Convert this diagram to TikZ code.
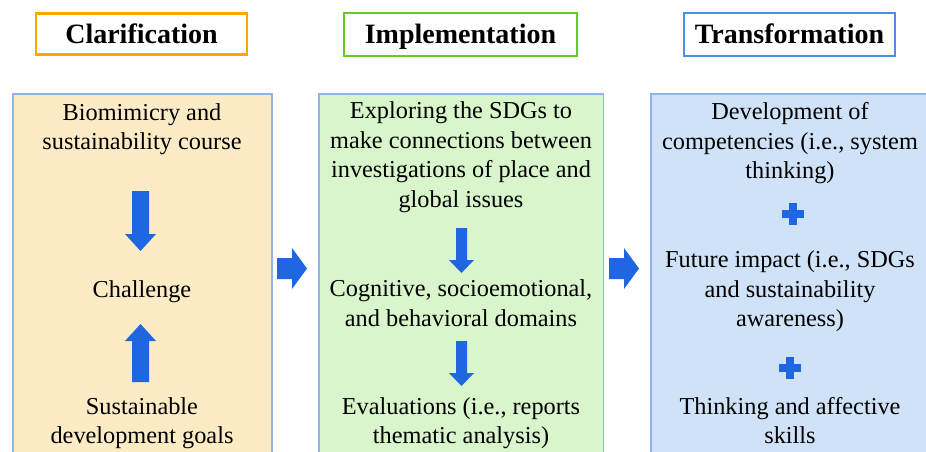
\documentclass[tikz,border=0pt]{standalone}
\usepackage{fontspec}
\setmainfont{Liberation Serif}
\definecolor{arrowblue}{RGB}{31,102,226}
\definecolor{orangeline}{RGB}{255,166,0}
\definecolor{greenline}{RGB}{102,204,34}
\definecolor{blueline}{RGB}{74,142,232}
\definecolor{panelline}{RGB}{143,179,234}
\definecolor{fillA}{RGB}{253,235,198}
\definecolor{fillB}{RGB}{216,245,203}
\definecolor{fillC}{RGB}{207,226,248}
\tikzset{
  header/.style={draw=#1, line width=2.6pt, fill=white, inner sep=0pt,
    text height=22pt, text depth=3pt,
    font=\fontsize{28}{32}\selectfont\bfseries},
  panel/.style={draw=panelline, line width=1.2pt, fill=#1},
  body/.style={anchor=base, inner sep=0pt, font=\fontsize{24.3}{29}\selectfont},
  pics/barrow/.style n args={4}{code={
    \fill[arrowblue] (0,-#2) -- ({#1-#4},-#2) -- ({#1-#4},-#3) -- (#1,0)
      -- ({#1-#4},#3) -- ({#1-#4},#2) -- (0,#2) -- cycle;}},
  pics/plus/.style={code={
    \fill[arrowblue] (-11,-4) rectangle (11,4);
    \fill[arrowblue] (-4,-11) rectangle (4,11);}}
}
\begin{document}
\begin{tikzpicture}[x=1pt,y=-1pt]
\useasboundingbox (0,0) rectangle (926,452);
\fill[white] (0,0) rectangle (926,452);

% column headers
\node[header=orangeline, minimum width=211, minimum height=41] (hA) at (141.5,34) {Clarification};
\node[header=greenline, minimum width=233, minimum height=43] (hB) at (460.5,34.5) {Implementation};
\node[header=blueline, minimum width=211, minimum height=43] (hC) at (789.5,34.5) {Transformation};

% column panels
\draw[panel=fillA] (13,94) rectangle (272,470);
\draw[panel=fillB] (319,94) rectangle (603.5,470);
\draw[panel=fillC] (651,94) rectangle (940,470);

% Clarification
\node[body] (a1) at (142,120) {Biomimicry and};
\node[body] (a2) at (142,149) {sustainability course};
\node[body] (a3) at (142,297) {Challenge};
\node[body] (a4) at (142,414) {Sustainable};
\node[body] (a5) at (142,443) {development goals};
\pic[rotate=-90] at (140.5,191) {barrow={60}{8.5}{15.5}{17}};
\pic[rotate=90] at (140.5,382) {barrow={58}{8.5}{15.5}{17}};

% Implementation
\node[body] (b1) at (461,118) {Exploring the SDGs to};
\node[body] (b2) at (461,148) {make connections between};
\node[body] (b3) at (461,177) {investigations of place and};
\node[body] (b4) at (461,207) {global issues};
\node[body] (b5) at (461,296) {Cognitive, socioemotional,};
\node[body] (b6) at (461,326) {and behavioral domains};
\node[body] (b7) at (461,414) {Evaluations (i.e., reports};
\node[body] (b8) at (461,443) {thematic analysis)};
\pic[rotate=-90] at (461.5,228) {barrow={45}{5.5}{12.5}{13}};
\pic[rotate=-90] at (461.5,341) {barrow={45}{5.5}{12.5}{13}};

% Transformation
\node[body] (c1) at (790,119) {Development of};
\node[body] (c2) at (790,149) {competencies (i.e., system};
\node[body] (c3) at (790,178) {thinking)};
\node[body] (c4) at (790,267) {Future impact (i.e., SDGs};
\node[body] (c5) at (790,297) {and sustainability};
\node[body] (c6) at (790,326) {awareness)};
\node[body] (c7) at (790,414) {Thinking and affective};
\node[body] (c8) at (790,443) {skills};
\pic at (793,214) {plus};
\pic at (790,368) {plus};

% arrows between the columns
\pic at (277,268.5) {barrow={30}{10.5}{20.5}{15}};
\pic at (609,268.5) {barrow={30}{10.5}{20.5}{15}};
\end{tikzpicture}
\end{document}
